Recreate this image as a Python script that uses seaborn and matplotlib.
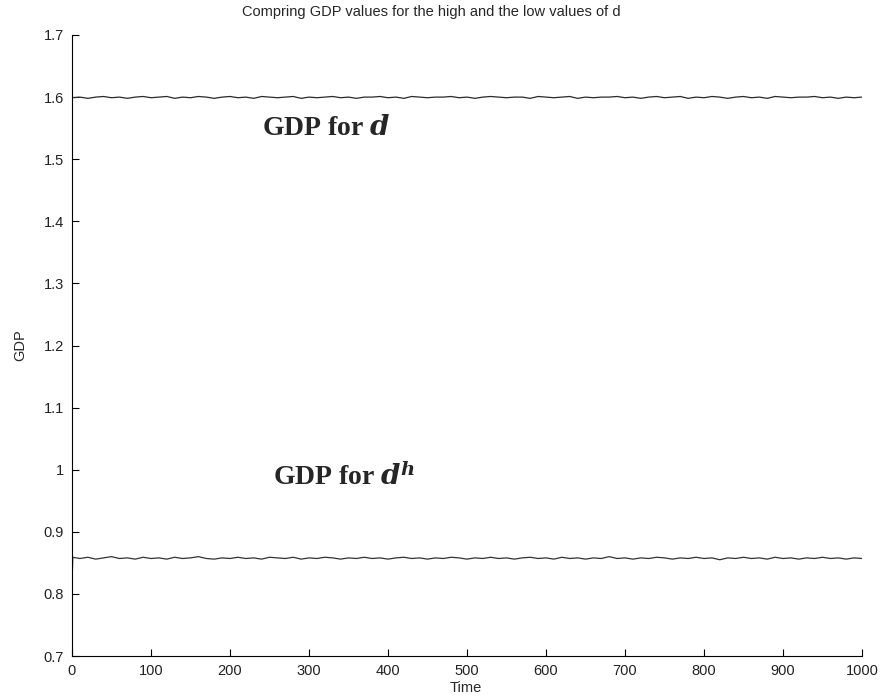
import numpy as np
import pandas as pd
import matplotlib
matplotlib.use("Agg")
import matplotlib.pyplot as plt
import seaborn as sns

time_high = list(range(0, 1001, 10))
gdp_high = [1.599, 1.600, 1.598, 1.600, 1.601, 1.599, 1.600, 1.598, 1.600, 1.601,
            1.599, 1.600, 1.601, 1.598, 1.600, 1.599, 1.601, 1.600, 1.598, 1.600,
            1.601, 1.599, 1.600, 1.598, 1.601, 1.600, 1.599, 1.600, 1.601, 1.598,
            1.600, 1.599, 1.600, 1.601, 1.599, 1.600, 1.598, 1.600, 1.600, 1.601,
            1.599, 1.600, 1.598, 1.601, 1.600, 1.599, 1.600, 1.600, 1.601, 1.599,
            1.600, 1.598, 1.600, 1.601, 1.600, 1.599, 1.600, 1.600, 1.598, 1.601,
            1.600, 1.599, 1.600, 1.601, 1.598, 1.600, 1.599, 1.600, 1.600, 1.601,
            1.599, 1.600, 1.598, 1.600, 1.601, 1.599, 1.600, 1.601, 1.598, 1.600,
            1.599, 1.601, 1.600, 1.598, 1.600, 1.601, 1.599, 1.600, 1.598, 1.601,
            1.600, 1.599, 1.600, 1.600, 1.601, 1.599, 1.600, 1.598, 1.600, 1.599,
            1.600]
time_low = [0, 1] + list(range(10, 1001, 10))
gdp_low = [0.815, 0.859,
           0.857, 0.859, 0.856, 0.858, 0.860, 0.857, 0.858, 0.856, 0.859, 0.857,
           0.858, 0.856, 0.859, 0.857, 0.858, 0.860, 0.857, 0.856, 0.858, 0.857,
           0.859, 0.857, 0.858, 0.856, 0.859, 0.858, 0.857, 0.859, 0.856, 0.858,
           0.857, 0.859, 0.858, 0.856, 0.858, 0.857, 0.859, 0.857, 0.858, 0.856,
           0.858, 0.859, 0.857, 0.858, 0.856, 0.858, 0.857, 0.859, 0.858, 0.856,
           0.858, 0.857, 0.859, 0.857, 0.858, 0.856, 0.858, 0.859, 0.857, 0.858,
           0.856, 0.859, 0.857, 0.858, 0.856, 0.858, 0.857, 0.860, 0.857, 0.858,
           0.856, 0.858, 0.857, 0.859, 0.858, 0.856, 0.858, 0.857, 0.859, 0.857,
           0.858, 0.855, 0.858, 0.857, 0.859, 0.857, 0.858, 0.856, 0.859, 0.857,
           0.858, 0.856, 0.858, 0.857, 0.859, 0.857, 0.858, 0.856, 0.858, 0.857]
x_ticks = [0, 100, 200, 300, 400, 500, 600, 700, 800, 900, 1000]
y_ticks = [0.7, 0.8, 0.9, 1.0, 1.1, 1.2, 1.3, 1.4, 1.5, 1.6, 1.7]
y_tick_labels = ["0.7", "0.8", "0.9", "1", "1.1", "1.2", "1.3", "1.4", "1.5", "1.6", "1.7"]
title = "Compring GDP values for the high and the low values of d"

sns.set_theme(style="white")
plt.rcParams["font.family"] = ["Liberation Sans", "DejaVu Sans"]
plt.rcParams["mathtext.fontset"] = "custom"
plt.rcParams["mathtext.rm"] = "Liberation Serif"
plt.rcParams["mathtext.it"] = "Liberation Serif:italic"
plt.rcParams["mathtext.bf"] = "Liberation Serif:bold"
plt.rcParams["mathtext.bfit"] = "DejaVu Serif:bold:italic"

df_high = pd.DataFrame({"Time": time_high, "GDP": gdp_high})
df_low = pd.DataFrame({"Time": time_low, "GDP": gdp_low})

fig = plt.figure(figsize=(8.85, 6.98), dpi=100)
ax = fig.add_axes([72 / 885, 1 - 656 / 698, 790 / 885, 621 / 698])

sns.lineplot(data=df_high, x="Time", y="GDP", ax=ax, color="#2a2a2a", linewidth=0.9)
sns.lineplot(data=df_low, x="Time", y="GDP", ax=ax, color="#333333", linewidth=0.9)

ax.set_xlim(0, 1000)
ax.set_ylim(0.7, 1.7)
ax.set_xticks(x_ticks)
ax.set_xticklabels([str(t) for t in x_ticks])
ax.set_yticks(y_ticks)
ax.set_yticklabels(y_tick_labels)

for s in ["top", "right"]:
    ax.spines[s].set_visible(False)
for s in ["left", "bottom"]:
    ax.spines[s].set_color("black")
    ax.spines[s].set_linewidth(0.8)

ax.tick_params(axis="both", direction="in", length=5, width=0.8, colors="black",
               labelsize=10.5, left=True, bottom=True, pad=6)
for lab in ax.get_xticklabels() + ax.get_yticklabels():
    lab.set_color("#222222")

ax.set_xlabel("Time", fontsize=10.5, va="center")
ax.set_ylabel("GDP", fontsize=10.5, va="center")
ax.xaxis.set_label_coords((466 - 72) / 790, (656 - 688) / 621)
ax.yaxis.set_label_coords((20 - 72) / 790, 0.5)

fig.text(431 / 885, 1 - 12 / 698, title, ha="center", va="center", fontsize=10.5)

ax.text(240.5, 1.539, r"GDP for $\mathbfit{d}$", fontsize=20, fontweight="bold",
        family="Liberation Serif", ha="left", va="baseline")
ax.text(254, 0.9754, r"GDP for $\mathbfit{d}^{\mathbfit{h}}$", fontsize=20, fontweight="bold",
        family="Liberation Serif", ha="left", va="baseline")

fig.savefig("out.png", dpi=100)
